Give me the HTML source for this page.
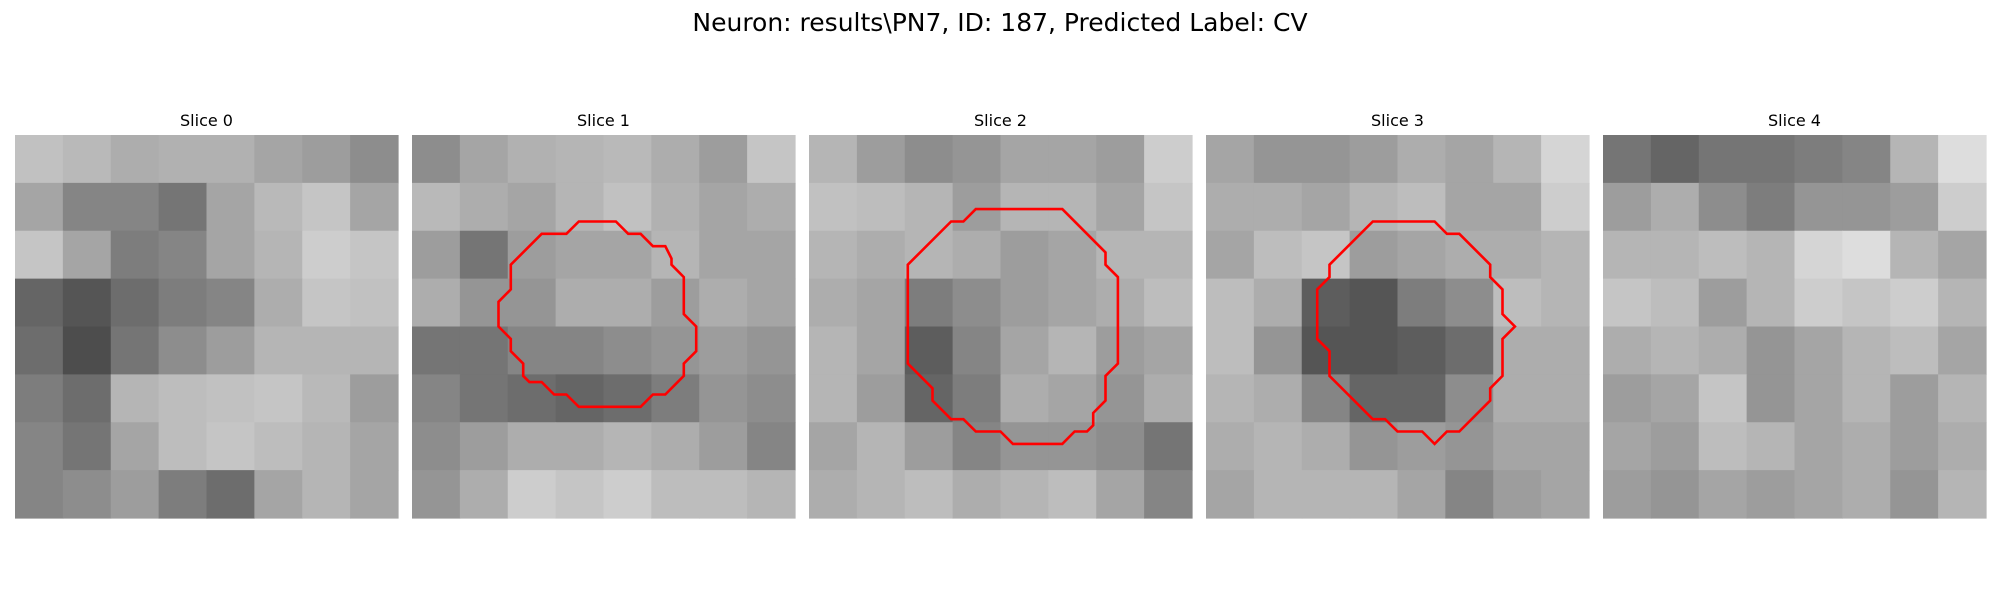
<!DOCTYPE html>
<html><head><meta charset="utf-8"><style>
html,body{margin:0;padding:0;background:#fff;}
svg{display:block;font-family:"DejaVu Sans","Liberation Sans",sans-serif;}
</style></head><body>
<svg id="fig" width="2000" height="600" viewBox="0 0 2000 600">
<text x="1000" y="31" font-size="25" text-anchor="middle" fill="#000">Neuron: results\PN7, ID: 187, Predicted Label: CV</text>
</svg>
<script>
const sliceTitles = ["Slice 0","Slice 1","Slice 2","Slice 3","Slice 4"];
const slice0 = [
[185,175,160,165,165,150,140,120],
[150,110,110,90,150,175,190,150],
[190,150,100,110,150,170,200,190],
[70,50,80,100,110,160,190,185],
[80,40,90,120,140,170,170,170],
[100,80,170,180,185,190,175,140],
[110,90,150,180,190,180,170,150],
[110,120,140,100,80,150,170,150]];
const slice1 = [
[120,150,165,170,175,160,140,190],
[175,160,150,170,185,165,150,160],
[140,90,140,150,150,170,150,150],
[160,130,130,160,160,140,160,150],
[90,90,110,110,120,130,140,130],
[110,90,80,70,80,100,130,120],
[120,140,160,160,170,160,140,110],
[130,160,200,190,200,180,180,170]];
const slice2 = [
[170,140,120,130,150,150,140,200],
[185,180,170,140,170,170,150,190],
[170,160,170,160,140,150,170,170],
[160,150,100,120,140,150,160,180],
[170,150,60,110,150,170,140,150],
[170,140,70,100,160,150,130,160],
[150,170,140,110,130,130,120,90],
[160,170,180,160,170,180,150,110]];
const slice3 = [
[150,130,130,140,160,150,170,210],
[160,160,150,170,180,150,150,200],
[150,180,190,140,150,160,160,170],
[180,160,60,50,100,120,180,170],
[180,130,50,50,60,80,160,160],
[170,160,110,70,70,120,160,160],
[160,170,160,130,140,130,150,150],
[150,170,170,170,150,110,140,150]];
const slice4 = [
[90,70,90,90,100,110,170,220],
[140,160,120,100,130,130,140,200],
[170,170,180,170,210,220,170,150],
[190,180,140,170,200,190,200,170],
[160,170,160,130,150,170,180,150],
[140,150,190,130,150,170,140,170],
[150,140,180,170,150,160,140,160],
[140,130,150,140,150,160,130,170]];
const contour1 = [[13.5,7],[16.5,7],[17.5,8],[18.5,8],[19.5,9],[20.5,9],[21,10],[21,10.5],[22,11.5],[22,14.5],[23,15.5],[23,17.5],[22,18.5],[22,19.5],[20.5,21],[19.5,21],[18.5,22],[13.5,22],[12.5,21],[11.5,21],[10.5,20],[9.5,20],[9,19.5],[9,18.5],[8,17.5],[8,16.5],[7,15.5],[7,13.5],[8,12.5],[8,10.5],[10.5,8],[12.5,8]];
const contour2 = [[13.5,6],[20.5,6],[24,9.5],[24,10.5],[25,11.5],[25,18.5],[24,19.5],[24,21.5],[23,22.5],[23,23.5],[22.5,24],[21.5,24],[20.5,25],[16.5,25],[15.5,24],[13.5,24],[12.5,23],[11.5,23],[10,21.5],[10,20.5],[8,18.5],[8,10.5],[11.5,7],[12.5,7]];
const contour3 = [[13.5,7],[18.5,7],[19.5,8],[20.5,8],[23,10.5],[23,11.5],[24,12.5],[24,14.5],[25,15.5],[24,16.5],[24,19.5],[23,20.5],[23,21.5],[20.5,24],[19.5,24],[18.5,25],[17.5,24],[15.5,24],[14.5,23],[13.5,23],[10,19.5],[10,17.5],[9,16.5],[9,12.5],[10,11.5],[10,10.5]];

const slices = [slice0,slice1,slice2,slice3,slice4];
const contours = [null,contour1,contour2,contour3,null];
const panelX = [15,412,809,1206,1603];
const panelY = 135, panelSize = 383, gridCells = 31;
const NS = "http://www.w3.org/2000/svg";
const svg = document.getElementById('fig');
function mk(tag, attrs){const e=document.createElementNS(NS,tag);for(const k in attrs)e.setAttribute(k,attrs[k]);return e;}
function tone(v){return Math.min(255, Math.round(v*0.8+45));}

slices.forEach((grid,p)=>{
  const g = mk('g',{});
  
  
  svg.appendChild(g);
  const t = mk('text',{x:panelX[p]+panelSize/2,y:126,'font-size':16,'text-anchor':'middle',fill:'#000'});
  t.textContent = sliceTitles[p];
  
  
  g.appendChild(t);
  const n = grid.length, cs = panelSize/n;
  grid.forEach((row,r)=>row.forEach((v,c)=>{
    const w = tone(v);
    const rc = mk('rect',{x:panelX[p]+c*cs,y:panelY+r*cs,width:cs+0.6,height:cs+0.6,fill:`rgb(${w},${w},${w})`});
    
    
    g.appendChild(rc);
  }));
  const pts = contours[p];
  if(pts){
    const u = panelSize/gridCells;
    const d = pts.map(q=>(panelX[p]+q[0]*u).toFixed(1)+','+(panelY+q[1]*u).toFixed(1)).join(' ');
    const pl = mk('polygon',{points:d,fill:'none',stroke:'#ff0000','stroke-width':2.6,'stroke-linejoin':'miter'});
    
    
    g.appendChild(pl);
  }
});
</script>
</body></html>
